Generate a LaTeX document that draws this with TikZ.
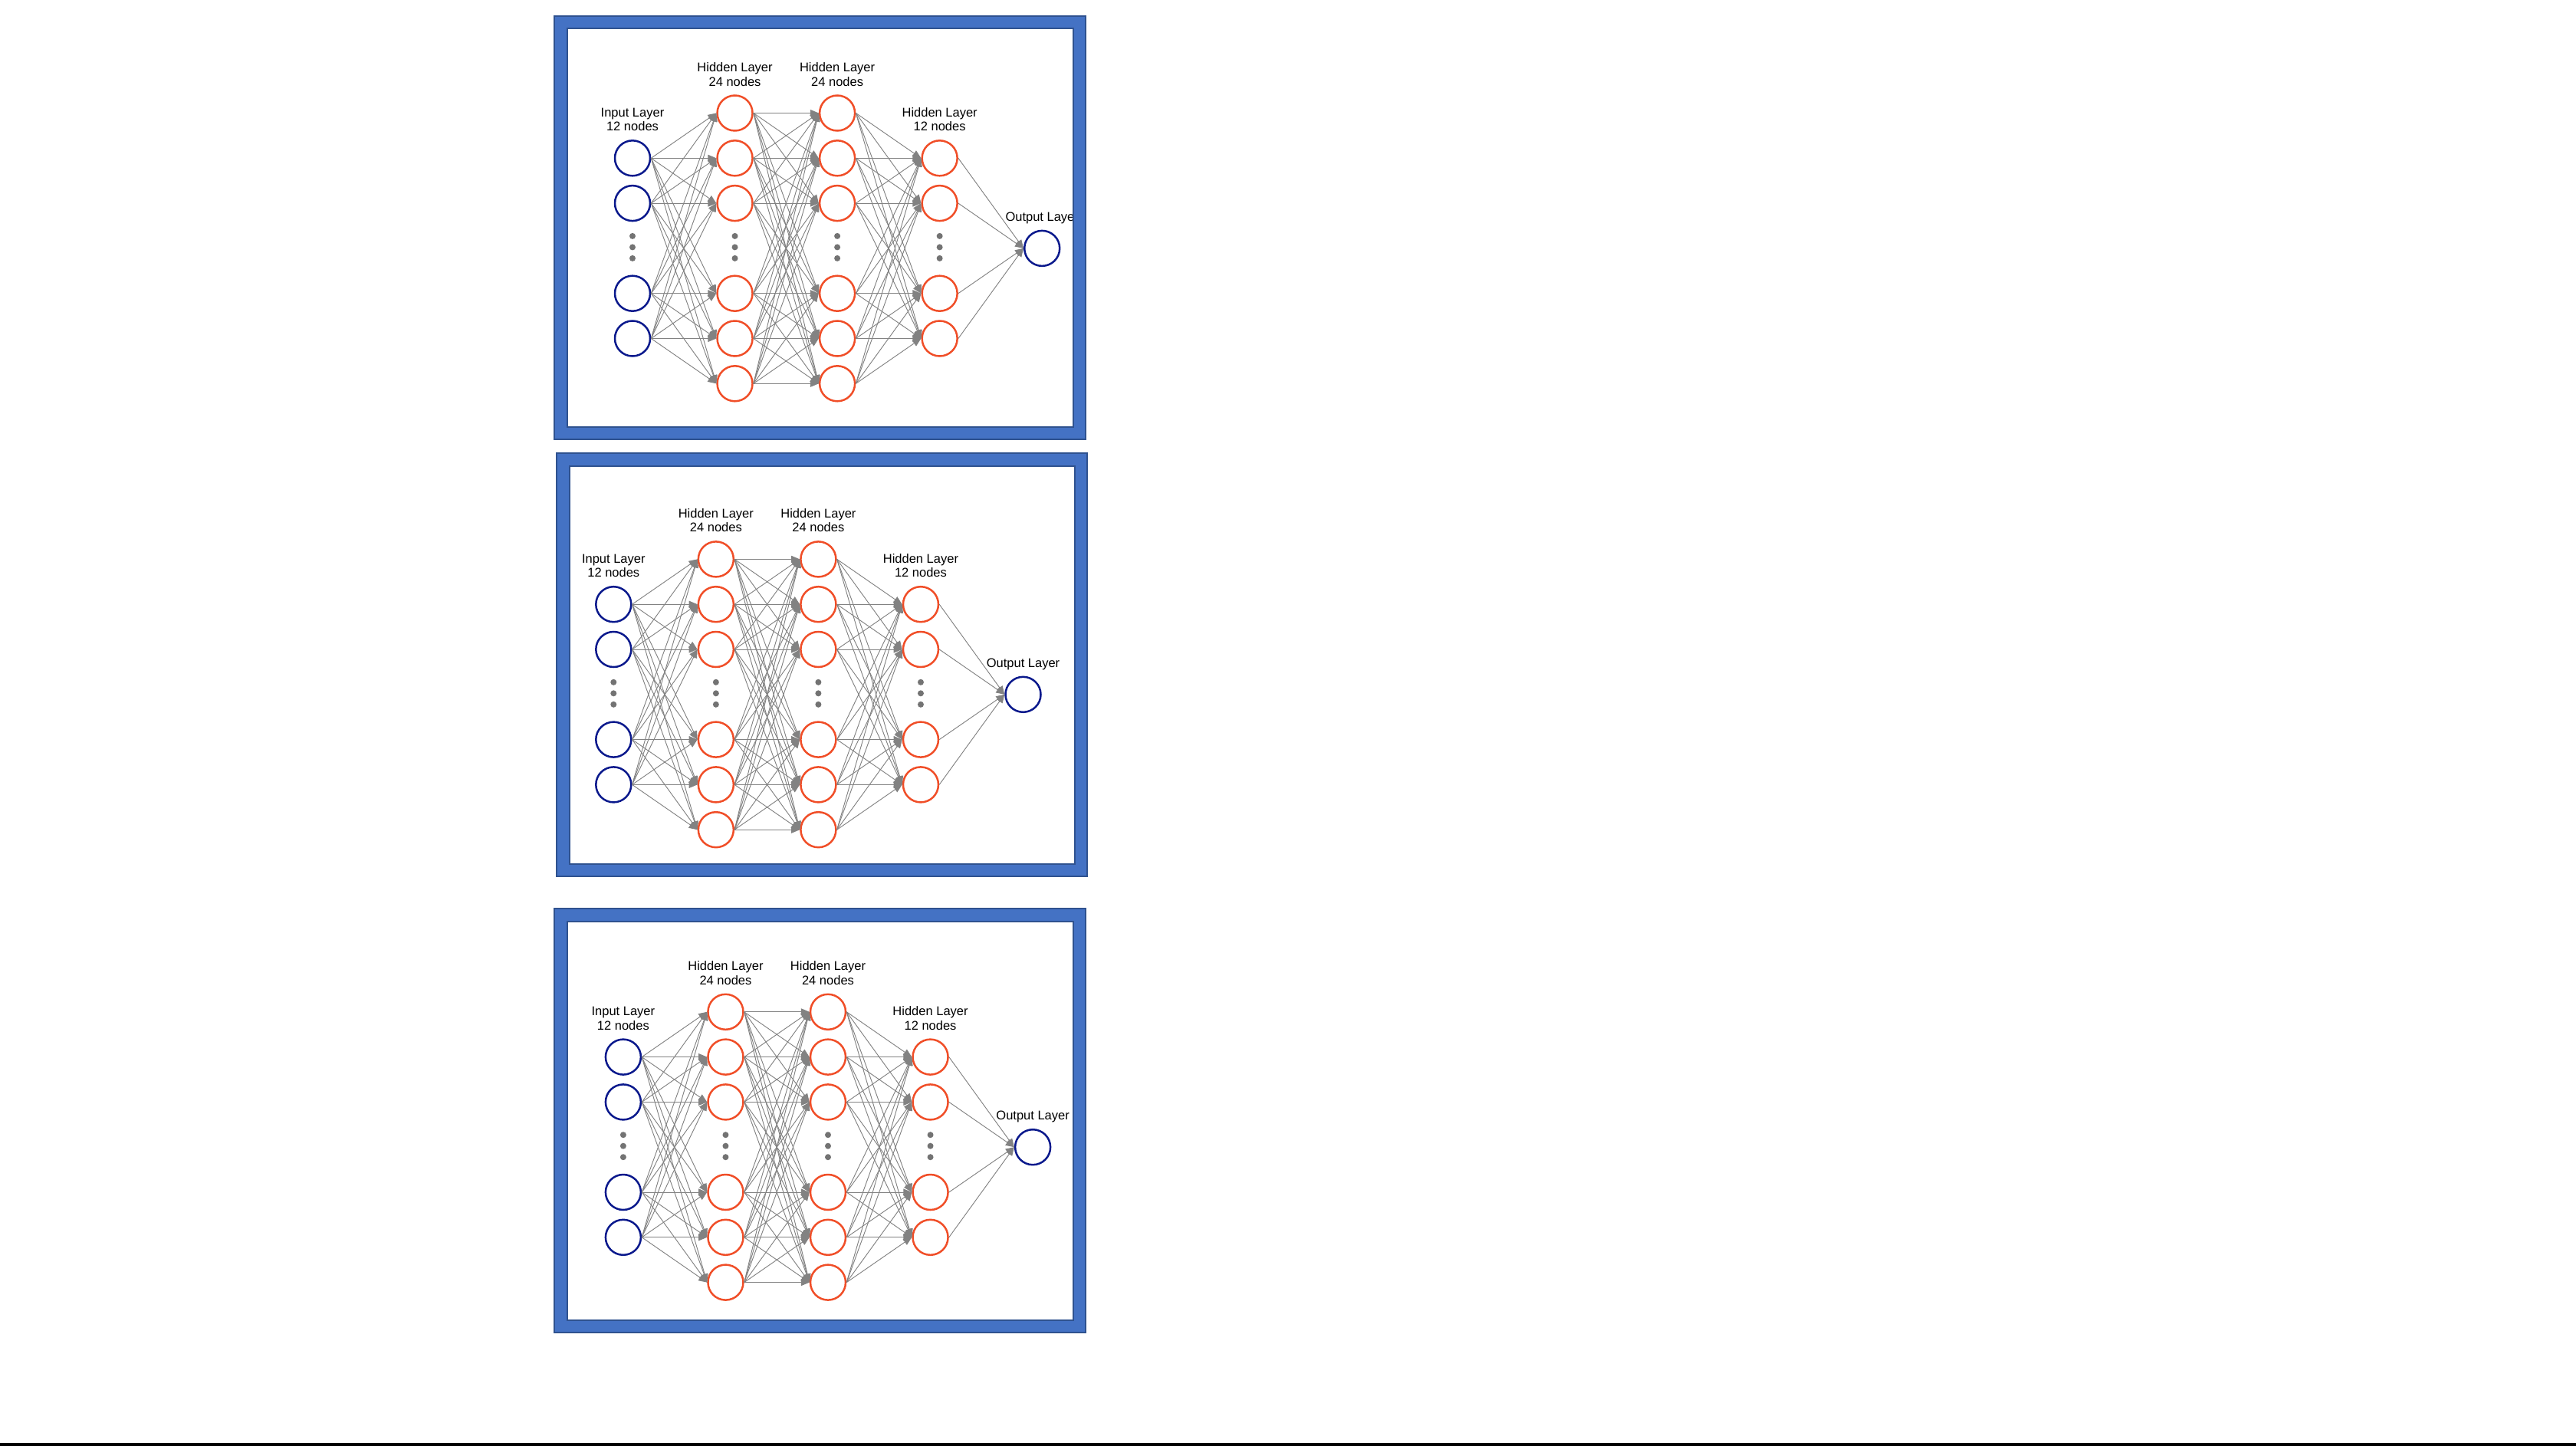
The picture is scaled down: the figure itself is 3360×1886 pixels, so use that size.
\documentclass[tikz,border=0pt]{standalone}
\usepackage{fontspec}
\setmainfont{Liberation Sans}
\usetikzlibrary{arrows.meta,positioning}
\definecolor{inblue}{RGB}{10,25,140}
\definecolor{hred}{RGB}{240,78,40}
\definecolor{wiregray}{RGB}{130,130,130}
\definecolor{dotgray}{RGB}{115,115,115}
\definecolor{frameblue}{RGB}{68,114,196}
\definecolor{framedark}{RGB}{47,82,143}
\tikzset{>={Triangle[length=11pt,width=9pt]},
  neuron/.style={circle,minimum size=46pt,inner sep=0pt,line width=2.5pt},
  inode/.style={neuron,draw=inblue},hnode/.style={neuron,draw=hred},
  wire/.style={->,draw=wiregray,fill=wiregray,line width=.9pt},
  lbl/.style={align=center,inner sep=0pt,text depth=0pt,font=\fontsize{16.5}{18.5}\selectfont}}
\newcommand{\netdx}{133.55}
\newcommand{\netdy}{58.8}
\newcommand{\nnet}{%
\foreach \r in {1,2,4,5} {\node[inode] (in\r) at (0,\r*\netdy) {};\node[hnode] (hc\r) at (3*\netdx,\r*\netdy) {};}
\foreach \r in {0,1,2,4,5,6} {\node[hnode] (ha\r) at (\netdx,\r*\netdy) {};\node[hnode] (hb\r) at (2*\netdx,\r*\netdy) {};}
\node[inode] (out) at (4*\netdx,3*\netdy) {};
\foreach \c in {0,...,3} \foreach \d in {-16,-1.5,13} \fill[dotgray] (\c*\netdx,{3*\netdy+(\d)}) circle[radius=4pt];
% connections
\foreach \s in {1,2,4,5} \foreach \t in {0,1,2,4,5,6} \draw[wire] (in\s.east)--(ha\t.west);
\foreach \s in {0,1,2,4,5,6} \foreach \t in {0,1,2,4,5,6} \draw[wire] (ha\s.east)--(hb\t.west);
\foreach \s in {0,1,2,4,5,6} \foreach \t in {1,2,4,5} \draw[wire] (hb\s.east)--(hc\t.west);
\foreach \s in {1,2,4,5} \draw[wire] (hc\s.east)--(out.west);
% layer titles
\node[lbl,above=11pt of in1] (tin) {Input Layer\\12 nodes};
\node[lbl,above=11pt of ha0] (tha) {Hidden Layer\\24 nodes};
\node[lbl,above=11pt of hb0] (thb) {Hidden Layer\\24 nodes};
\node[lbl,above=11pt of hc1] (thc) {Hidden Layer\\12 nodes};
\node[lbl,above=11pt of out] (tout) {Output Layer};}
\newcommand{\panel}[4]{\draw[frameblue,line width=16.5pt] (#1+8.25,#2+8.25) rectangle (#3-8.25,#4-8.25);
\draw[framedark,line width=2pt] (#1,#2) rectangle (#3,#4) (#1+16.5,#2+16.5) rectangle (#3-16.5,#4-16.5);}

\begin{document}
\begin{tikzpicture}[x=1pt,y=-1pt]
\useasboundingbox (0,0) rectangle (3360,1886);
\begin{scope}[shift={(825,147.5)},name prefix=a-]\nnet\end{scope}
\begin{scope}[shift={(800.3,729.4)},name prefix=b-]\nnet\end{scope}
\begin{scope}[shift={(812.9,1319.8)},name prefix=c-]\nnet\end{scope}
\panel{723}{21}{1416}{573}
\panel{726}{591}{1418}{1143}
\panel{723}{1185}{1416}{1738}
\fill (0,1881.7) rectangle (3360,1886);
\end{tikzpicture}
\end{document}
